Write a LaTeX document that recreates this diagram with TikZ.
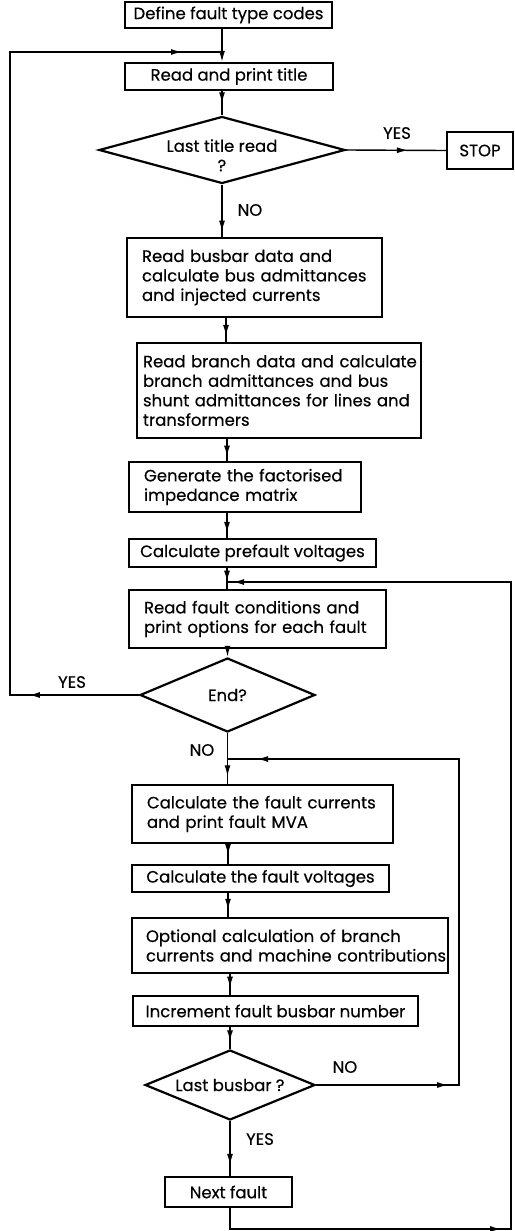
\documentclass[tikz,border=0pt]{standalone}
\usepackage{fontspec}
\setmainfont{Poppins}[FakeBold=0.4]
\usetikzlibrary{shapes.geometric,arrows.meta,decorations.markings}

\begin{document}
\begin{tikzpicture}[x=1pt,y=-1pt,
  >={Latex[length=11pt,width=6pt]},
  every node/.style={font=\fontsize{16.5}{19.5}\selectfont},
  box/.style={draw,line width=2.2pt,rectangle,inner ysep=0pt,inner xsep=0pt,align=center},
  lbox/.style={box,align=left,inner xsep=#1},
  dia/.style={draw,line width=2.2pt,diamond,inner sep=0pt,align=center},
  lbl/.style={inner sep=0pt},
  conn/.style={line width=1.4pt},
  tip/.style={postaction={decorate},decoration={markings,mark=at position #1 with {\arrow{>}}}}
]
\useasboundingbox (0,0) rectangle (514,1231);

% spine reference points
\coordinate (s1) at (222,0);
\coordinate (s3) at (226,0);
\coordinate (s4) at (227,0);
\coordinate (s5) at (228,0);

% process boxes
\node[box,minimum width=207pt,minimum height=26pt] (def) at (228.5,15) {Define fault type codes};
\node[box,minimum width=208pt,minimum height=27pt] (title) at (229,76.5) {Read and print title};
\node[dia,minimum width=246pt,minimum height=67pt,aspect=3.67] (d1) at (222,150)
  {\raisebox{-12pt}[10pt][10pt]{\begin{tabular}{@{}c@{}}Last title read\\?\end{tabular}}};
\node[box,minimum width=66pt,minimum height=37pt] (stop) at (480,150.5) {STOP};
\node[lbox=15pt,text width=225pt,minimum height=79pt] (bus) at (254.5,277.5)
  {Read busbar data and\\calculate bus admittances\\and injected currents};
\node[lbox=6pt,text width=272pt,minimum height=95pt] (branch) at (279,390.5)
  {\mbox{Read branch data and calculate}\\\mbox{branch admittances and bus}\\\mbox{shunt admittances for lines and}\\transformers};
\node[lbox=15pt,text width=202pt,minimum height=50pt] (gen) at (245,487)
  {Generate the factorised\\impedance matrix};
\node[box,minimum width=247pt,minimum height=28pt] (pre) at (252.5,553) {Calculate prefault voltages};
\node[lbox=15pt,text width=227pt,minimum height=58pt] (rf) at (257.5,619)
  {\mbox{Read fault conditions and}\\\mbox{print options for each fault}};
\node[dia,minimum width=175pt,minimum height=74pt,aspect=2.36] (d2) at (227.5,695) {End?};
\node[lbox=15pt,text width=231pt,minimum height=58pt] (cfc) at (262.5,814)
  {\mbox{Calculate the fault currents}\\and print fault MVA};
\node[box,minimum width=257pt,minimum height=27pt] (cfv) at (260.5,878.5) {Calculate the fault voltages};
\node[lbox=14pt,text width=288pt,minimum height=55pt] (opt) at (290,945.5)
  {\mbox{Optional calculation of branch}\\\mbox{currents and machine contributions}};
\node[box,minimum width=285pt,minimum height=30pt] (inc) at (275.5,1011) {Increment fault busbar number};
\node[dia,minimum width=170pt,minimum height=70pt,aspect=2.43] (d3) at (230,1085) {Last busbar ?};
\node[box,minimum width=127pt,minimum height=30pt] (next) at (228.5,1192) {Next fault};

% branch labels
\node[lbl] (y1) at (397,133) {YES};
\node[lbl] (n1) at (250,210) {NO};
\node[lbl] (y2) at (72,682) {YES};
\node[lbl] (n2) at (202,750) {NO};
\node[lbl] (n3) at (345,1067) {NO};
\node[lbl] (y3) at (260,1139) {YES};

% loop corners and junctions
\coordinate (j1) at (222,52);
\coordinate (lb) at (10,695);
\coordinate (lt) at (10,52);
\coordinate (j2) at (227,582);
\coordinate (nb) at (230,1229);
\coordinate (rb) at (511,1229);
\coordinate (rt) at (511,582);
\coordinate (j3) at (228,759);
\coordinate (r2b) at (459,1085);
\coordinate (r2t) at (459,759);

% main flow
\draw[conn,->] (def.south -| s1) -- (title.north -| s1);
\draw[conn,tip=0.5] (title.south -| s1) -- (d1.north);
\draw[conn,tip=0.62] (d1.east) -- (stop.west);
\draw[conn,tip=0.9] (d1.south) -- (bus.north -| d1.south);
\draw[conn,tip=0.75] (bus.south -| s3) -- (branch.north -| s3);
\draw[conn,tip=0.8] (branch.south -| s4) -- (gen.north -| s4);
\draw[conn,tip=0.8] (gen.south -| s4) -- (pre.north -| s4);
\draw[conn,tip=0.65] (pre.south -| s4) -- (rf.north -| s4);
\draw[conn,->] (rf.south -| d2.north) -- (d2.north);
\draw[conn,tip=0.85] (d2.south) -- (cfc.north -| d2.south);
\draw[conn,tip=0.55] (cfc.south -| s5) -- (cfv.north -| s5);
\draw[conn,tip=0.7] (cfv.south -| s5) -- (opt.north -| s5);
\draw[conn,tip=0.65] (opt.south -| d3.north) -- (inc.north -| d3.north);
\draw[conn,tip=0.65] (inc.south -| d3.north) -- (d3.north);
\draw[conn,tip=0.8] (d3.south) -- (next.north -| d3.south);

% return paths
\draw[conn,postaction={decorate},decoration={markings,
    mark=at position 110pt with {\arrow{>}},
    mark=at position -40pt with {\arrow{>}}}]
  (d2.west) -- (lb) -- (lt) -- (j1);
\draw[conn,postaction={decorate},decoration={markings,
    mark=at position 132pt with {\arrow{>}},
    mark=at position -29pt with {\arrow{>}}}]
  (d3.east) -- (r2b) -- (r2t) -- (j3);
\draw[conn,postaction={decorate},decoration={markings,
    mark=at position 292pt with {\arrow{>}},
    mark=at position -6pt with {\arrow{>}}}]
  (next.south -| d3.south) -- (nb) -- (rb) -- (rt) -- (j2);
\end{tikzpicture}
\end{document}
